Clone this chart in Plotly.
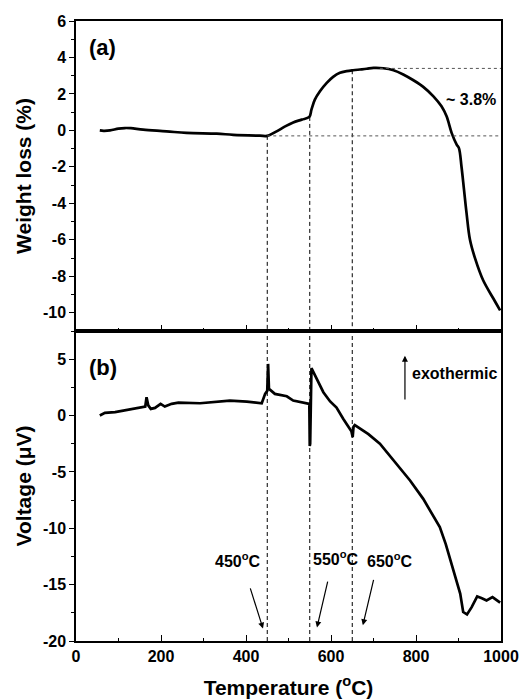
import plotly.graph_objects as go

# ---- data ----
temp_a = [56, 65, 80, 100, 115, 129, 158, 213, 260, 331, 370, 433, 450, 472, 492, 511, 531, 549,
          554, 562, 574, 590, 605, 621, 637, 652, 668, 684, 700, 723, 747, 770, 794, 817, 841,
          860, 872, 884, 896, 901, 907, 913, 919, 927, 939, 958, 982, 998]
weight = [0.0, -0.02, 0.0, 0.1, 0.13, 0.12, 0.04, -0.05, -0.14, -0.18, -0.24, -0.29, -0.3, -0.05,
          0.22, 0.44, 0.59, 0.74, 1.14, 1.69, 2.15, 2.61, 2.94, 3.16, 3.25, 3.3, 3.34, 3.38, 3.43,
          3.41, 3.3, 3.07, 2.75, 2.39, 1.87, 1.32, 0.77, -0.15, -0.79, -0.97, -1.98, -3.26, -4.55,
          -6.0, -7.02, -8.22, -9.22, -9.87]

temp_b = [56, 68, 92, 119, 158, 163, 166, 170, 176, 186, 199, 209, 225, 241, 292, 331, 362, 402,
          437, 445, 450, 452, 454, 468, 484, 496, 511, 527, 549, 550, 551, 554, 566, 582, 598, 613,
          629, 641, 648, 651, 653, 656, 670, 688, 715, 751, 786, 817, 856, 870, 884, 904, 911, 920,
          931, 944, 955, 966, 980, 998]
voltage = [0.0, 0.24, 0.3, 0.5, 0.74, 0.8, 1.62, 0.9, 0.59, 0.68, 1.04, 0.8, 1.04, 1.15, 1.09,
           1.24, 1.33, 1.24, 1.09, 1.92, 2.2, 4.58, 2.37, 1.92, 1.77, 1.71, 1.33, 1.18, 1.04, -2.7,
           -2.5, 4.2, 3.25, 2.07, 1.25, 0.7, -0.3, -1.0, -1.4, -1.92, -1.0, -0.85, -1.2, -1.65,
           -2.5, -4.14, -5.76, -7.39, -9.9, -11.4, -13.15, -15.8, -17.43, -17.64, -17.0, -16.05,
           -16.2, -16.4, -16.1, -16.6]

x_ticks = [0, 200, 400, 600, 800, 1000]
x_ticktext = ["0", "200", "400", "600", "800", "1000"]
ya_ticks = [-10, -8, -6, -4, -2, 0, 2, 4, 6]
ya_ticktext = ["-10", "-8", "-6", "-4", "-2", "0", "2", "4", "6"]
yb_ticks = [-20, -15, -10, -5, 0, 5]
yb_ticktext = ["-20", "-15", "-10", "-5", "0", "5"]

event_temps = [450, 550, 650]
event_weights = [-0.3, 0.74, 3.3]
event_labels = ["450<sup>o</sup>C", "550<sup>o</sup>C", "650<sup>o</sup>C"]
plateau_weights = [3.4, -0.3]
plateau_starts = [715, 450]

FONT = "Liberation Sans, Arial, sans-serif"
BOLD = dict(family=FONT, weight="bold", color="black")

fig = go.Figure()
fig.add_trace(go.Scatter(x=temp_a, y=weight, mode="lines", line=dict(color="black", width=2.7),
                         xaxis="x", yaxis="y", showlegend=False, line_shape="spline"))
fig.add_trace(go.Scatter(x=temp_b, y=voltage, mode="lines", line=dict(color="black", width=2.7),
                         xaxis="x2", yaxis="y2", showlegend=False))

shapes = []
for t, w in zip(event_temps, event_weights):
    shapes.append(dict(type="line", xref="x", yref="y", x0=t, x1=t, y0=w, y1=-11,
                       line=dict(color="black", width=1, dash="4px,3px")))
    shapes.append(dict(type="line", xref="x2", yref="y2", x0=t, x1=t, y0=-20, y1=7.5,
                       line=dict(color="black", width=1, dash="4px,3px")))
for w, s in zip(plateau_weights, plateau_starts):
    shapes.append(dict(type="line", xref="x", yref="y", x0=s, x1=1000, y0=w, y1=w,
                       line=dict(color="#555555", width=1, dash="dot")))

anns = [
    dict(xref="x", yref="y", x=27, y=4.55, text="(a)", showarrow=False, xanchor="left",
         font=dict(BOLD, size=22)),
    dict(xref="x2", yref="y2", x=27, y=4.26, text="(b)", showarrow=False, xanchor="left",
         font=dict(BOLD, size=22)),
    dict(xref="x", yref="y", x=866, y=1.69, text="~ 3.8%", showarrow=False, xanchor="left",
         font=dict(BOLD, size=16)),
    dict(xref="x2", yref="y2", x=786, y=3.72, text="exothermic", showarrow=False, xanchor="left",
         font=dict(BOLD, size=16)),
    dict(xref="x2", yref="y2", axref="x2", ayref="y2", x=774, y=5.3, ax=774, ay=1.3, text="",
         showarrow=True, arrowhead=2, arrowsize=1, arrowwidth=1.2, arrowcolor="black"),
]
label_pos = [(381, -12.85), (612, -12.6), (739, -12.8)]
arrow_tail = [(409, -15.2), (593, -14.6), (701, -14.45)]
arrow_head = [(440, -18.9), (567, -18.8), (675, -18.6)]
for lab, (lx, ly), (tx, ty), (hx, hy) in zip(event_labels, label_pos, arrow_tail, arrow_head):
    anns.append(dict(xref="x2", yref="y2", x=lx, y=ly, text=lab, showarrow=False,
                     font=dict(BOLD, size=16)))
    anns.append(dict(xref="x2", yref="y2", axref="x2", ayref="y2", x=hx, y=hy, ax=tx, ay=ty,
                     text="", showarrow=True, arrowhead=2, arrowsize=1, arrowwidth=1.2,
                     arrowcolor="black"))

axis_common = dict(showline=True, linecolor="black", linewidth=1.5, mirror=True,
                   showgrid=False, zeroline=False, tickcolor="black", tickwidth=1.2,
                   tickfont=dict(BOLD, size=16), automargin=False)

fig.update_layout(
    width=519, height=700, autosize=False,
    margin=dict(l=76, r=18, t=21, b=59),
    plot_bgcolor="white", paper_bgcolor="white",
    font=dict(family=FONT, color="black"),
    shapes=shapes, annotations=anns,
    xaxis=dict(axis_common, domain=[0, 1], range=[0, 1000], anchor="y", showticklabels=False,
               ticks="inside", ticklen=6, tickvals=x_ticks,
               minor=dict(ticks="inside", ticklen=3, dtick=100, tickcolor="black")),
    yaxis=dict(axis_common, domain=[0.5, 1], range=[-11, 6], anchor="x",
               ticks="outside", ticklen=5, tickvals=ya_ticks, ticktext=ya_ticktext,
               minor=dict(ticks="outside", ticklen=3, dtick=1, tickcolor="black"),
               title=dict(text="Weight loss (%)", font=dict(BOLD, size=21), standoff=6)),
    xaxis2=dict(axis_common, domain=[0, 1], range=[0, 1000], anchor="y2",
                ticks="inside", ticklen=6, tickvals=x_ticks, ticktext=x_ticktext,
                minor=dict(ticks="inside", ticklen=3, dtick=100, tickcolor="black"),
                title=dict(text="Temperature (<sup>o</sup>C)", font=dict(BOLD, size=21),
                           standoff=16)),
    yaxis2=dict(axis_common, domain=[0, 0.5], range=[-20, 7.5], anchor="x2",
                ticks="outside", ticklen=5, tickvals=yb_ticks, ticktext=yb_ticktext,
                minor=dict(ticks="outside", ticklen=3, dtick=2.5, tickcolor="black"),
                title=dict(text="Voltage (μV)", font=dict(BOLD, size=21), standoff=6)),
)

fig.write_html("out.html")
